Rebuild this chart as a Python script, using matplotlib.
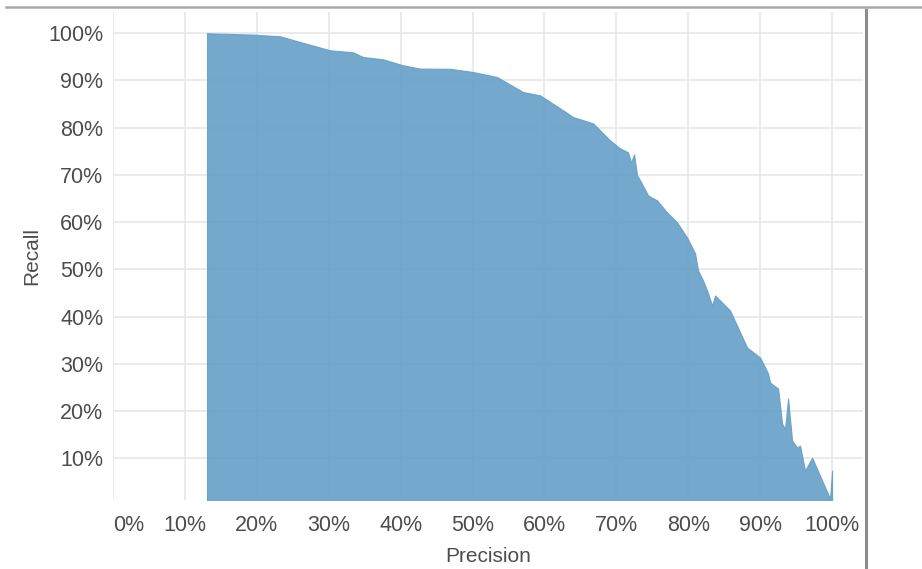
import matplotlib.pyplot as plt
from matplotlib.lines import Line2D
import numpy as np

# precision / recall points
precision = [0.1307, 0.1947, 0.2323, 0.2601, 0.3018, 0.3338, 0.3477, 0.3755,
             0.4033, 0.4270, 0.4687, 0.5007, 0.5341, 0.5702, 0.5939, 0.6259,
             0.6398, 0.6676, 0.6773, 0.6912, 0.7051, 0.7163, 0.7205, 0.7246,
             0.7288, 0.7330, 0.7441, 0.7566, 0.7705, 0.7844, 0.7983, 0.8095,
             0.8136, 0.8206, 0.8262, 0.8331, 0.8373, 0.8582, 0.8818, 0.8999,
             0.9110, 0.9138, 0.9249, 0.9305, 0.9346, 0.9388, 0.9444, 0.9513,
             0.9555, 0.9624, 0.9722, 0.9972, 1.0000]
recall = [1.0000, 0.9972, 0.9936, 0.9816, 0.9640, 0.9597, 0.9498, 0.9449,
          0.9322, 0.9252, 0.9248, 0.9180, 0.9074, 0.8756, 0.8686, 0.8369,
          0.8227, 0.8093, 0.7945, 0.7733, 0.7564, 0.7479, 0.7267, 0.7436,
          0.6992, 0.6886, 0.6568, 0.6462, 0.6208, 0.5996, 0.5678, 0.5339,
          0.4979, 0.4767, 0.4555, 0.4237, 0.4449, 0.4131, 0.3347, 0.3136,
          0.2797, 0.2606, 0.2479, 0.1737, 0.1631, 0.2267, 0.1377, 0.1229,
          0.1271, 0.0742, 0.1017, 0.0148, 0.0742]

ticks = np.arange(0, 1.01, 0.1)
x_labels = [f'{int(round(t * 100))}%' for t in ticks]
y_ticks = ticks[1:]
y_labels = [f'{int(round(t * 100))}%' for t in y_ticks]

plt.rcParams['font.family'] = ['Liberation Sans', 'DejaVu Sans']
text_color = '#4d4d4d'

fig = plt.figure(figsize=(9.22, 5.69), dpi=100)
ax = fig.add_axes([113 / 922, 1 - 500 / 569, 750 / 922, 488 / 569])

ax.fill_between(precision, recall, 0, color='#659fc7', alpha=0.9,
                linewidth=0.8, edgecolor='#659fc7', zorder=3)

ax.set_xlim(0, 1.043)
ax.set_ylim(0.012, 1.045)
ax.set_xticks(ticks)
ax.set_xticklabels(x_labels)
ax.set_yticks(y_ticks)
ax.set_yticklabels(y_labels)
ax.get_xticklabels()[0].set_horizontalalignment('left')

ax.grid(True, color='#e8e8e8', linewidth=1.2, zorder=1)
ax.set_axisbelow(True)
for s in ax.spines.values():
    s.set_visible(False)
ax.tick_params(length=0, labelsize=15.5, colors=text_color)
ax.tick_params(axis='x', pad=11)
ax.tick_params(axis='y', pad=7)

ax.set_xlabel('Precision', fontsize=15, color=text_color, labelpad=8)
ax.set_ylabel('Recall', fontsize=15, color=text_color, labelpad=5)

# frame lines of the original screenshot
fig.add_artist(Line2D([6 / 922, 1], [1 - 7 / 569] * 2, color='#a8a8a8', linewidth=1.8))
fig.add_artist(Line2D([866 / 922] * 2, [0, 1 - 10 / 569], color='#8c8c8c', linewidth=2.2))

fig.savefig('out.png', dpi=100)
